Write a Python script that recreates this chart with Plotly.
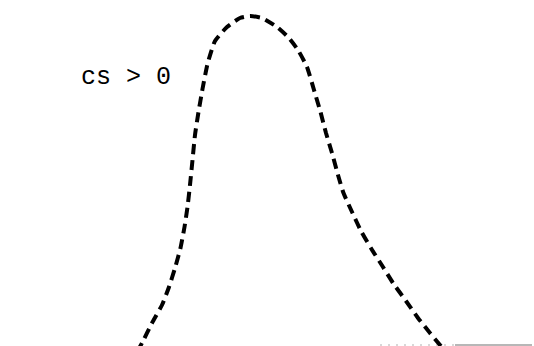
import plotly.graph_objects as go

# 곡선 (밀도 곡선, 화면에서 읽은 값)
curve_x = [2.74, 2.84, 3.04, 3.24, 3.38, 3.50, 3.61, 3.69, 3.75, 3.80, 3.85, 3.90, 3.97,
           4.05, 4.15, 4.30, 4.54, 4.80, 5.00, 5.24, 5.54, 5.76, 5.96, 6.14, 6.28, 6.41,
           6.52, 6.64, 6.76, 6.87, 7.05, 7.23, 7.43, 7.66, 7.86, 8.12, 8.36, 8.60, 8.80, 8.92]
curve_y = [-0.06, 0.03, 0.23, 0.41, 0.59, 0.78, 0.98, 1.19, 1.39, 1.61, 1.86, 2.11, 2.34,
           2.57, 2.82, 3.05, 3.19, 3.28, 3.30, 3.28, 3.19, 3.09, 2.96, 2.79, 2.56, 2.34,
           2.13, 1.93, 1.71, 1.53, 1.33, 1.14, 0.97, 0.79, 0.63, 0.45, 0.28, 0.13, 0.01, -0.06]

# 바닥 기준선
base_solid_x = [9.10, 10.64]
base_dot_x = [7.60, 9.10]
base_y = 0.01

label_text = "cs > 0"
label_x = 2.52
label_y = 2.69

fig = go.Figure()
fig.add_trace(go.Scatter(x=base_dot_x, y=[base_y, base_y], mode="lines",
                         line=dict(color="#b0b0b0", width=1, dash="2px,6px"), hoverinfo="skip"))
fig.add_trace(go.Scatter(x=base_solid_x, y=[base_y, base_y], mode="lines",
                         line=dict(color="#707070", width=1.2), hoverinfo="skip"))
fig.add_trace(go.Scatter(x=curve_x, y=curve_y, mode="lines",
                         line=dict(color="black", width=4, dash="10px,6px", shape="spline", smoothing=0.5)))

fig.add_annotation(x=label_x, y=label_y, text=label_text, showarrow=False,
                   font=dict(family="Liberation Mono", size=25, color="black"))

fig.update_layout(
    width=534, height=346, showlegend=False,
    paper_bgcolor="white", plot_bgcolor="white",
    margin=dict(t=0, b=0, l=0, r=0),
    xaxis=dict(range=[0, 10.68], visible=False),
    yaxis=dict(range=[0, 3.46], visible=False),
)
fig.write_html("out.html", config={"displayModeBar": False},
               post_script="document.body.style.margin='0';")
